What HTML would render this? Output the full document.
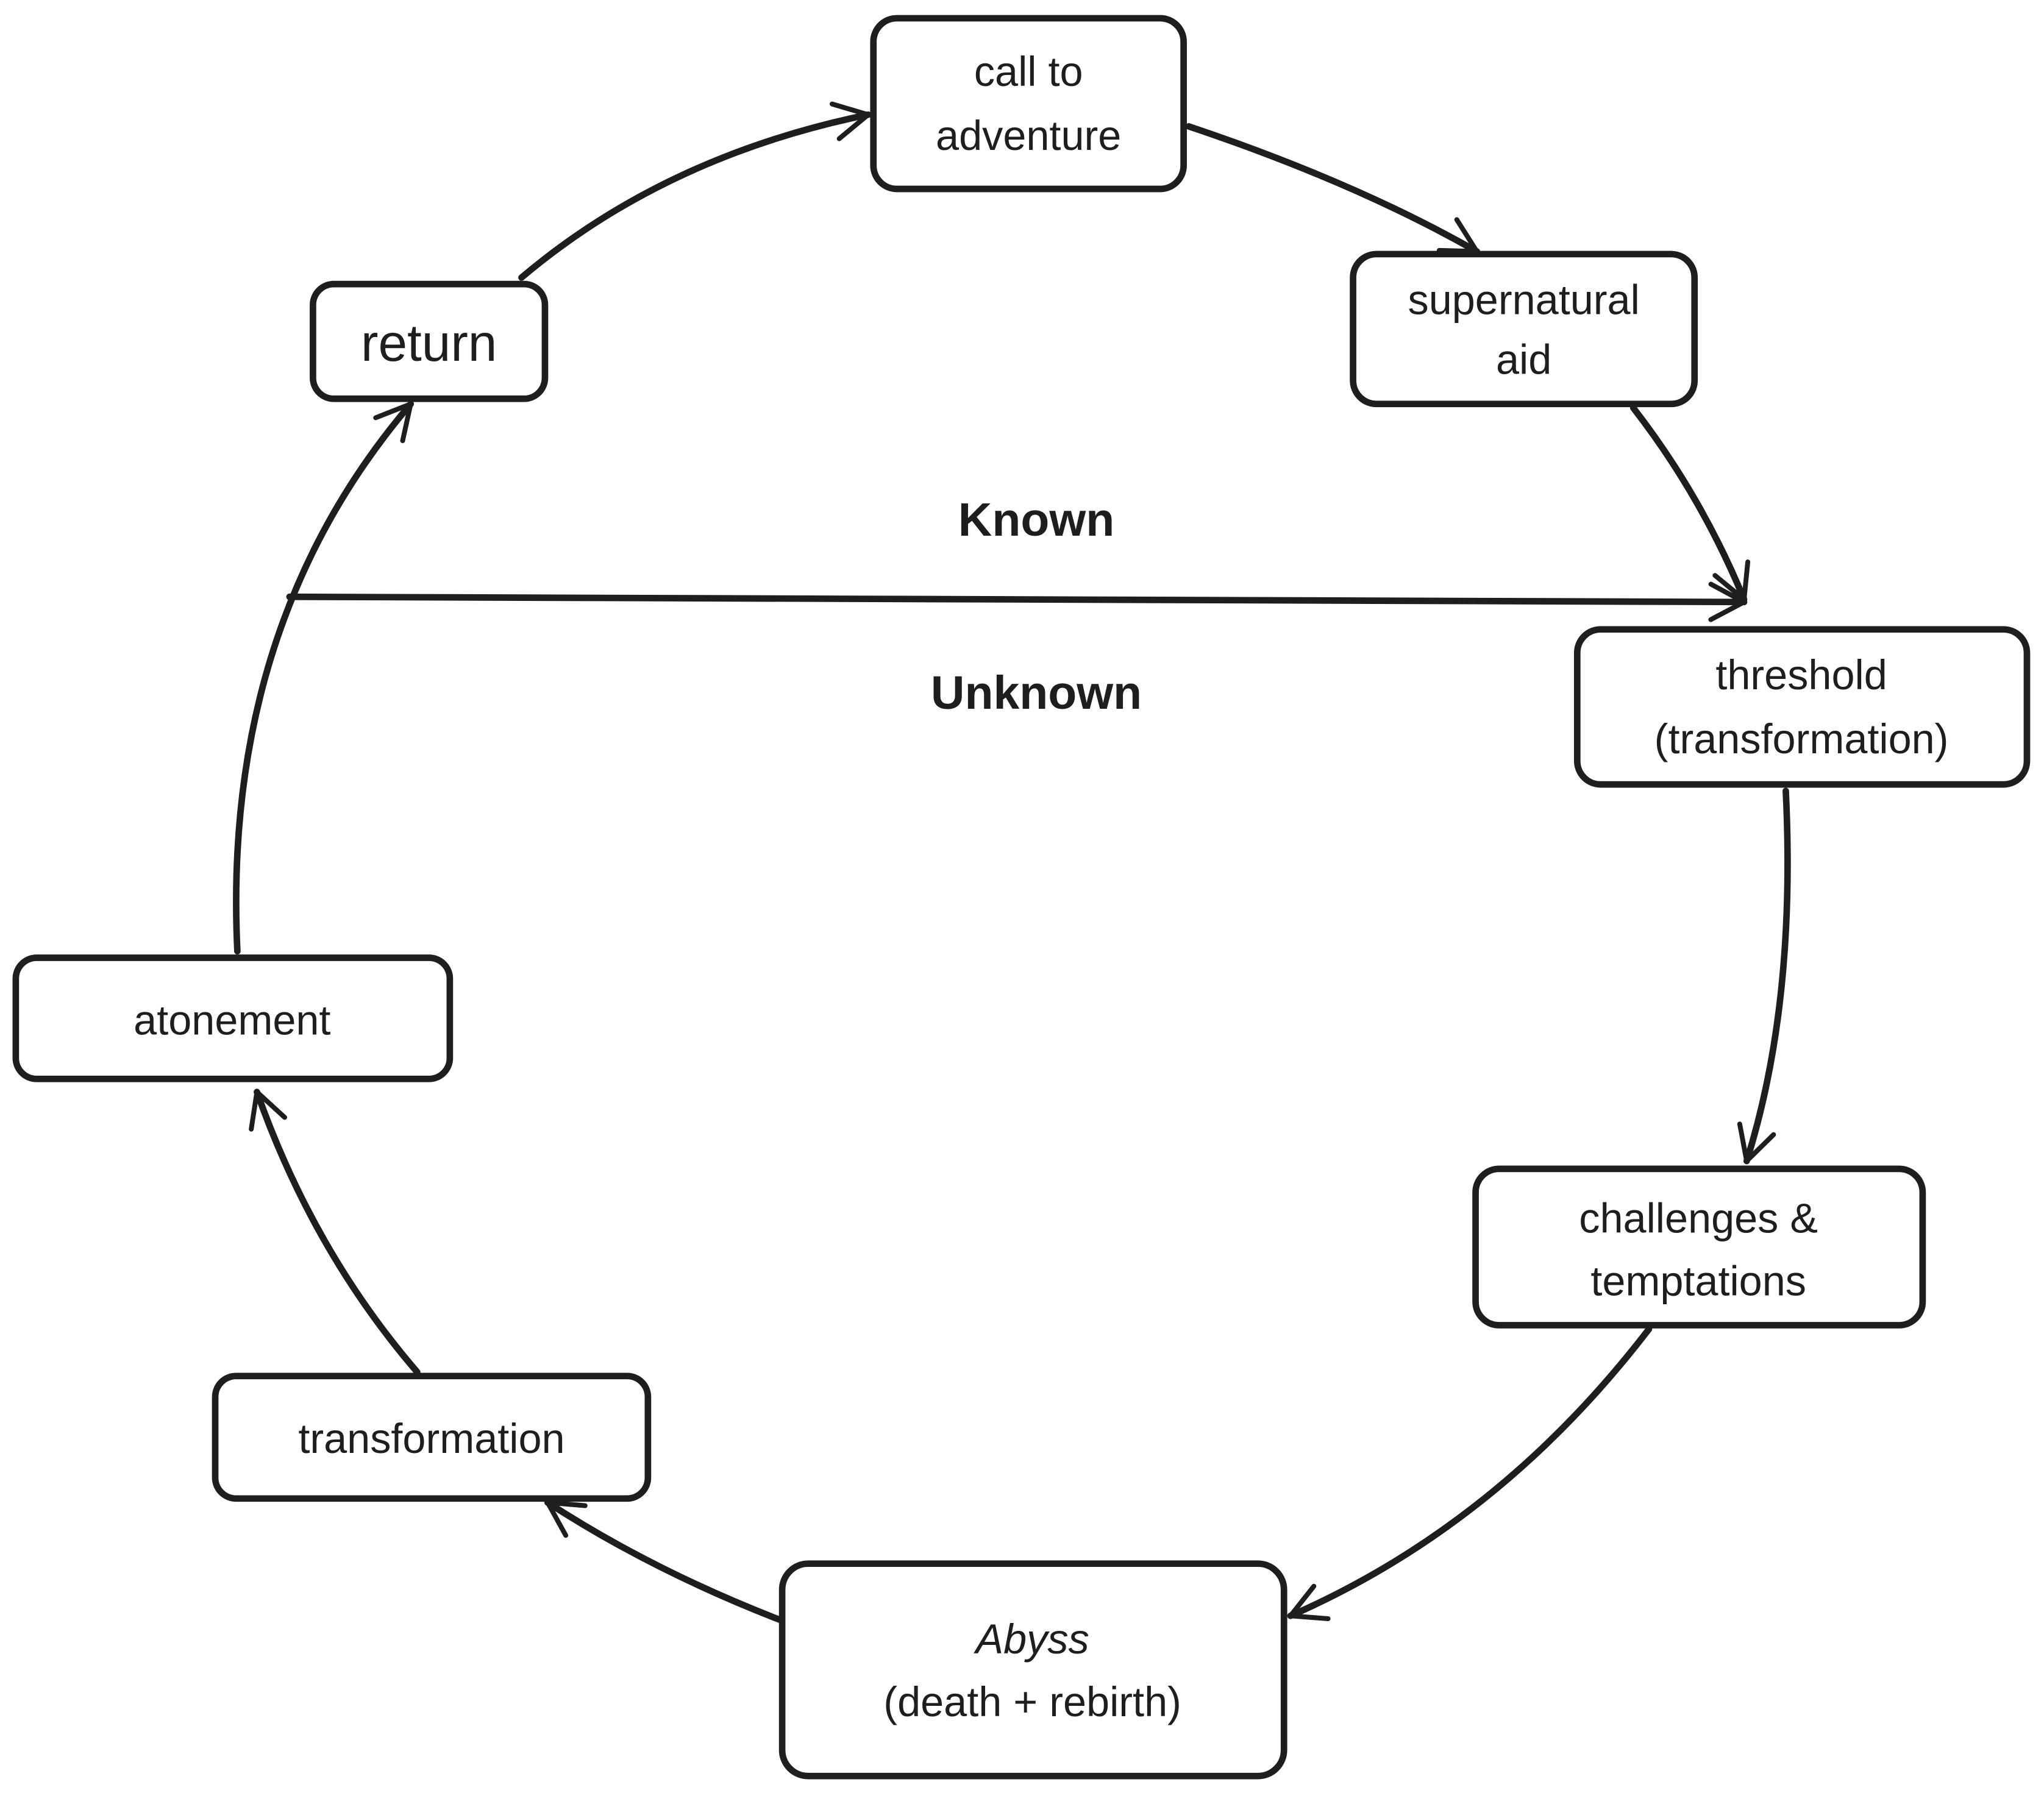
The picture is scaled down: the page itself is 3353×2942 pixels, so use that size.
<!DOCTYPE html>
<html><head><meta charset="utf-8"><style>
html,body{margin:0;padding:0;background:#fff;}
svg{display:block;}
text{font-family:"Liberation Sans",sans-serif;fill:#1e1e1e;}
</style></head><body>
<svg width="3353" height="2942" viewBox="0 0 1568 1376" xmlns="http://www.w3.org/2000/svg">
<defs>
<marker id="a" viewBox="0 0 20 20" refX="18" refY="10" markerWidth="34" markerHeight="34" orient="auto" markerUnits="userSpaceOnUse">
<path d="M3 2 L18 10 L3 18" fill="none" stroke="#1e1e1e" stroke-width="2.2" stroke-linecap="round" stroke-linejoin="round"/>
</marker>
</defs>
<g fill="none" stroke="#1e1e1e" stroke-width="5" stroke-linecap="round">
<rect x="670" y="14" width="238" height="131" rx="18"/>
<rect x="1038" y="195" width="262" height="115" rx="18"/>
<rect x="240" y="218" width="178" height="88" rx="16"/>
<rect x="1210" y="483" width="345" height="119" rx="18"/>
<rect x="12" y="735" width="333" height="93" rx="16"/>
<rect x="1132" y="897" width="343" height="120" rx="18"/>
<rect x="165" y="1056" width="332" height="94" rx="16"/>
<rect x="600" y="1200" width="385" height="163" rx="20"/>
<path d="M222 458 L1338 462" marker-end="url(#a)"/>
<path d="M400 213 Q510 120 666 88" marker-end="url(#a)"/>
<path d="M912 97 Q1040 140 1133 193" marker-end="url(#a)"/>
<path d="M1253 313 Q1305 380 1338 460" marker-end="url(#a)"/>
<path d="M1370 607 Q1378 770 1340 891" marker-end="url(#a)"/>
<path d="M1265 1020 Q1150 1170 990 1240" marker-end="url(#a)"/>
<path d="M598 1243 Q500 1205 420 1153" marker-end="url(#a)"/>
<path d="M320 1053 Q240 960 197 838" marker-end="url(#a)"/>
<path d="M182 730 Q170 480 315 310" marker-end="url(#a)"/>
</g>
<g font-size="32" text-anchor="middle">
<text x="789" y="66">call to</text>
<text x="789" y="115">adventure</text>
<text x="1169" y="241">supernatural</text>
<text x="1169" y="287">aid</text>
<text x="329" y="277" font-size="40">return</text>
<text x="1382" y="529">threshold</text>
<text x="1382" y="578">(transformation)</text>
<text x="178" y="794">atonement</text>
<text x="1303" y="946">challenges &amp;</text>
<text x="1303" y="994">temptations</text>
<text x="331" y="1115">transformation</text>
<text x="792" y="1269" font-style="italic">Abyss</text>
<text x="792" y="1317">(death + rebirth)</text>
<text x="795" y="411" font-weight="bold" font-size="36">Known</text>
<text x="795" y="544" font-weight="bold" font-size="36">Unknown</text>
</g>
</svg>
</body></html>
